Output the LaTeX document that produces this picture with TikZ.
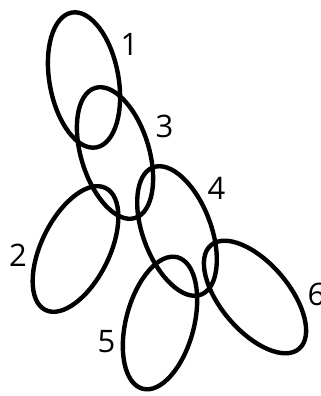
\documentclass[tikz,border=0pt]{standalone}
\usepackage{fontspec}
\setmainfont{Open Sans}
\begin{document}
\begin{tikzpicture}[x=1pt,y=1pt,
  loop/.style={draw=black,line width=4.4pt},
  lbl/.style={inner sep=0pt,font=\fontsize{31}{31}\selectfont}]
\useasboundingbox (0,0) rectangle (321,396);
% ellipses (pixel centre (x, 396-y))
\draw[loop,rotate around={10.3:(84,316)}] (84,316) ellipse [x radius=34.5, y radius=68.5];
\draw[loop,rotate around={17:(115,243)}] (115,243) ellipse [x radius=34, y radius=68];
\draw[loop,rotate around={-26.3:(75.5,147)}] (75.5,147) ellipse [x radius=34, y radius=68];
\draw[loop,rotate around={20.6:(177,165)}] (177,165) ellipse [x radius=34, y radius=68];
\draw[loop,rotate around={-14.8:(160,73)}] (160,73) ellipse [x radius=34, y radius=68];
\draw[loop,rotate around={40.4:(255,99)}] (255,99) ellipse [x radius=34, y radius=68];
% labels
\node[lbl] (l1) at (129.5,352) {1};
\node[lbl] (l3) at (164.5,270) {3};
\node[lbl] (l2) at (18,141) {2};
\node[lbl] (l4) at (216.5,208) {4};
\node[lbl] (l5) at (106.5,54) {5};
\node[lbl] (l6) at (316.5,101.5) {6};
\end{tikzpicture}
\end{document}
